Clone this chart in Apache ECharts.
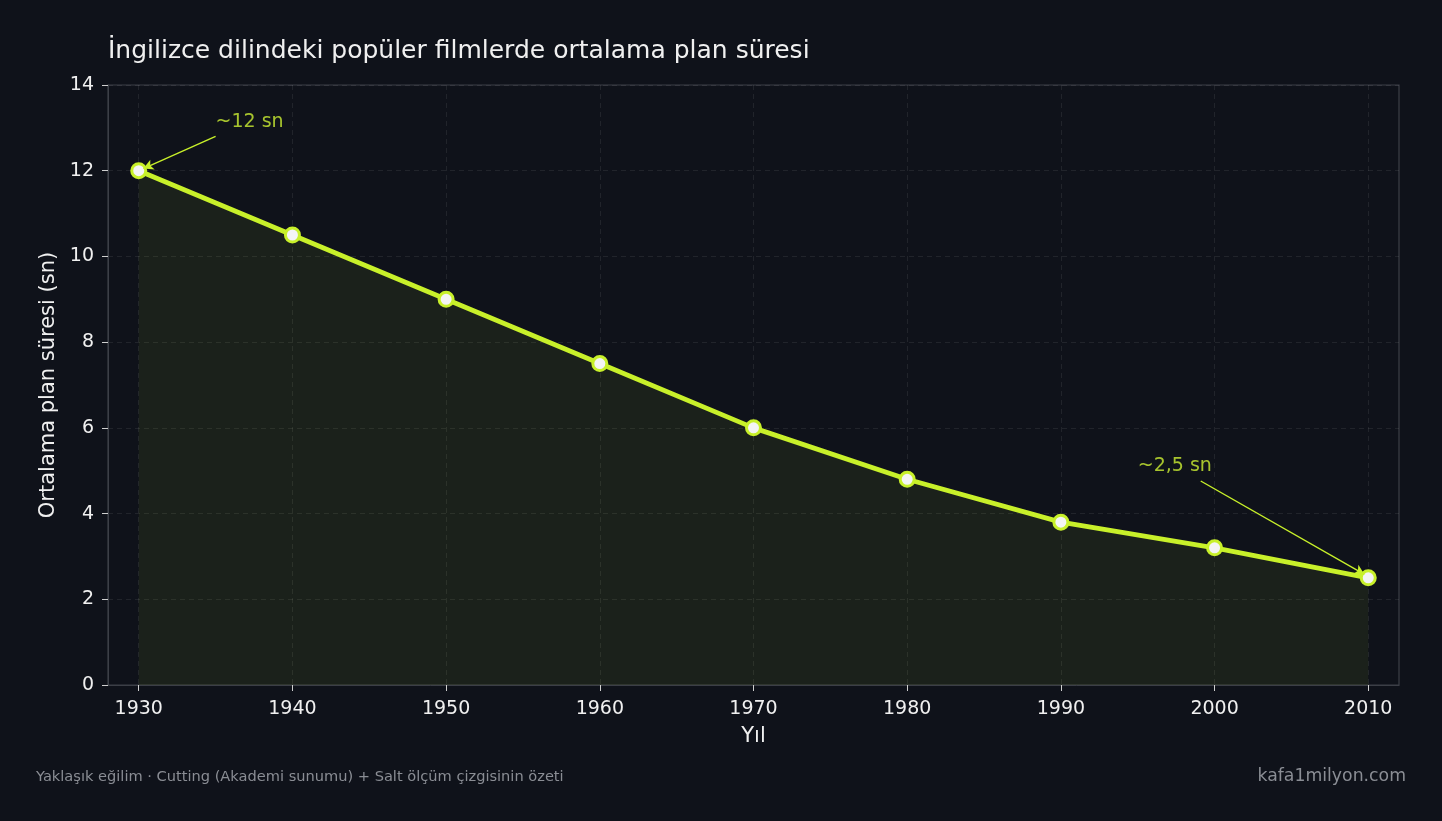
<!DOCTYPE html>
<html><head><meta charset="utf-8">
<script src="https://cdn.jsdelivr.net/npm/echarts@6/dist/echarts.min.js"></script>
<style>html,body{margin:0;padding:0;background:#0f121a;}#c{width:1442px;height:821px;}</style>
</head><body><div id="c"></div>
<script>
const years = [1930, 1940, 1950, 1960, 1970, 1980, 1990, 2000, 2010];
const shotLength = [12, 10.5, 9, 7.5, 6, 4.8, 3.8, 3.2, 2.5];
const xTicks = [1930, 1940, 1950, 1960, 1970, 1980, 1990, 2000, 2010];
const yTicks = [0, 2, 4, 6, 8, 10, 12, 14];
const annotations = [
  {text: '~12 sn', textAt: [1935, 13.14], from: [1935, 12.8], to: [1930.3, 12.05]},
  {text: '~2,5 sn', textAt: [1995, 5.12], from: [1999.1, 4.76], to: [2009.75, 2.58]}
];
const FONT = "'DejaVu Sans', sans-serif";
const GREEN = '#c8f02a';
const chart = echarts.init(document.getElementById('c'));
chart.setOption({
  backgroundColor: '#0f121a',
  animation: false,
  textStyle: {fontFamily: FONT},
  title: [
    {text: 'İngilizce dilindeki popüler filmlerde ortalama plan süresi', left: 103, top: 34,
     textStyle: {color: '#f0f0f0', fontSize: 25, fontWeight: 'normal', fontFamily: FONT}},
    {text: 'Yaklaşık eğilim · Cutting (Akademi sunumu) + Salt ölçüm çizgisinin özeti', left: 31, top: 765,
     textStyle: {color: '#8a8d94', fontSize: 14.6, fontWeight: 'normal', fontFamily: FONT}},
    {text: 'kafa1milyon.com', right: 31, top: 763,
     textStyle: {color: '#8a8d94', fontSize: 17.3, fontWeight: 'normal', fontFamily: FONT}}
  ],
  grid: {left: 108, right: 43, top: 85, bottom: 136, show: true, borderColor: '#3c3f47', borderWidth: 1.2, backgroundColor: 'transparent'},
  xAxis: {
    type: 'value', min: 1928, max: 2012,
    name: 'Yıl', nameLocation: 'middle', nameGap: 41,
    nameTextStyle: {color: '#f0f0f0', fontSize: 21, fontFamily: FONT},
    axisLine: {show: true, lineStyle: {color: '#3c3f47'}},
    axisTick: {show: true, customValues: xTicks, length: 6, lineStyle: {color: '#cfcfcf'}},
    axisLabel: {customValues: xTicks, color: '#f0f0f0', fontSize: 19, margin: 15, fontFamily: FONT, formatter: v => String(v)},
    splitLine: {show: true, lineStyle: {color: 'rgba(255,255,255,0.08)', type: [5, 4]}}
  },
  yAxis: {
    type: 'value', min: 0, max: 14, interval: 2,
    name: 'Ortalama plan süresi (sn)', nameLocation: 'middle', nameGap: 44, nameRotate: 90,
    nameTextStyle: {color: '#f0f0f0', fontSize: 21, fontFamily: FONT},
    axisLine: {show: true, lineStyle: {color: '#3c3f47'}},
    axisTick: {show: true, length: 6, lineStyle: {color: '#cfcfcf'}},
    axisLabel: {color: '#f0f0f0', fontSize: 19, margin: 14, fontFamily: FONT},
    splitLine: {show: true, lineStyle: {color: 'rgba(255,255,255,0.08)', type: [5, 4]}}
  },
  series: [
    {
      type: 'line', data: years.map((y, i) => [y, shotLength[i]]),
      symbol: 'circle', symbolSize: 14,
      lineStyle: {color: GREEN, width: 4.8},
      itemStyle: {color: '#f4f4f4', borderColor: GREEN, borderWidth: 3},
      areaStyle: {color: 'rgba(200,240,42,0.1)'},
      z: 3,
      markLine: {
        silent: true, symbol: ['none', 'arrow'], symbolSize: [8, 10],
        lineStyle: {color: GREEN, width: 1.4, type: 'solid'},
        label: {show: false},
        data: annotations.map(a => [{coord: a.from}, {coord: a.to}])
      }
    },
    {
      type: 'scatter', symbolSize: 0, silent: true,
      data: annotations.map(a => ({value: a.textAt, name: a.text})),
      label: {show: true, position: 'right', distance: 0, formatter: p => p.name, color: '#cdf033', fontSize: 19, fontFamily: FONT}
    }
  ]
});
</script></body></html>
